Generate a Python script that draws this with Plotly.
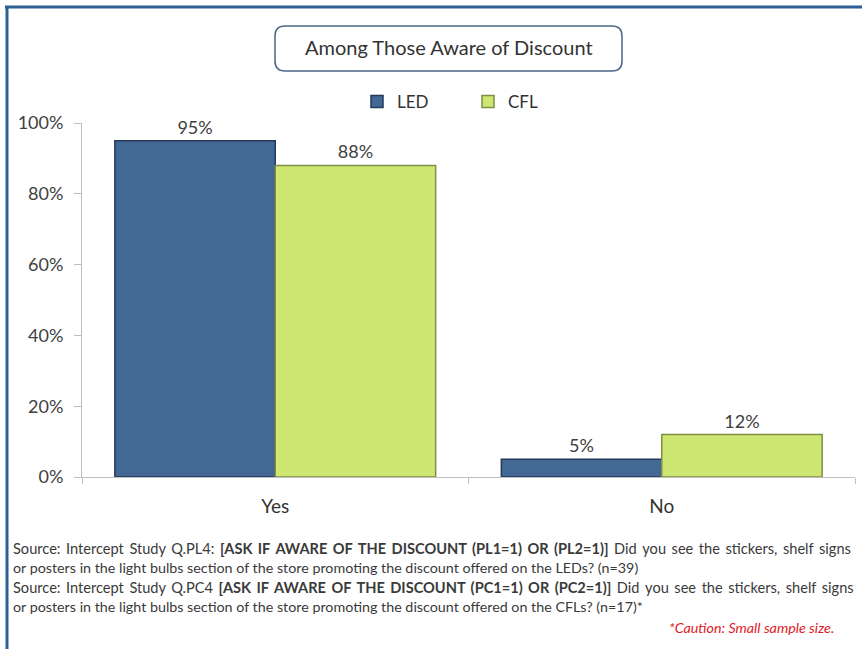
import plotly.graph_objects as go

categories = ["Yes", "No"]
led_values = [95, 5]
cfl_values = [88, 12]
series_names = ["LED", "CFL"]
y_tick_vals = [0, 20, 40, 60, 80, 100]
y_tick_text = ["0%", "20%", "40%", "60%", "80%", "100%"]
chart_title = "Among Those Aware of Discount"
footnotes = [
    "Source: Intercept Study Q.PL4: <b>[ASK IF AWARE OF THE DISCOUNT (PL1=1) OR (PL2=1)]</b> Did you see the stickers, shelf signs",
    "or posters in the light bulbs section of the store promoting the discount offered on the LEDs? (n=39)",
    "Source: Intercept Study Q.PC4 <b>[ASK IF AWARE OF THE DISCOUNT (PC1=1) OR (PC2=1)]</b> Did you see the stickers, shelf signs",
    "or posters in the light bulbs section of the store promoting the discount offered on the CFLs? (n=17)*",
]
justified = [True, False, True, False]
caution = "<i>*Caution: Small sample size.</i>"

W, H = 862, 649
L, R = 82, 855
T, B = 123, 477
FONT = "Lato"


def px(x):
    return (x - L) / (R - L)


def py(y):
    return (B - y) / (B - T)


fig = go.Figure()
fig.add_trace(go.Bar(
    name=series_names[0], x=categories, y=led_values,
    marker=dict(color="#436894", line=dict(color="#23395a", width=1.5)),
    texttemplate="%{y}%", textposition="outside",
    textfont=dict(size=18, color="#404040", family=FONT),
    cliponaxis=False,
))
fig.add_trace(go.Bar(
    name=series_names[1], x=categories, y=cfl_values,
    marker=dict(color="#cde772", line=dict(color="#7f8f45", width=1.5)),
    texttemplate="%{y}%", textposition="outside",
    textfont=dict(size=18, color="#404040", family=FONT),
    cliponaxis=False,
))

shapes = []
shapes.append(dict(type="line", xref="paper", yref="paper",
                   x0=px(5), x1=px(862), y0=py(7), y1=py(7),
                   line=dict(color="#2d5f94", width=3)))
shapes.append(dict(type="line", xref="paper", yref="paper",
                   x0=px(7), x1=px(7), y0=py(7), y1=py(649),
                   line=dict(color="#2d5f94", width=3)))
x0, x1, y0, y1, r = 275, 622, 26, 71, 10
path = (
    f"M {px(x0 + r)},{py(y0)} L {px(x1 - r)},{py(y0)} "
    f"Q {px(x1)},{py(y0)} {px(x1)},{py(y0 + r)} "
    f"L {px(x1)},{py(y1 - r)} Q {px(x1)},{py(y1)} {px(x1 - r)},{py(y1)} "
    f"L {px(x0 + r)},{py(y1)} Q {px(x0)},{py(y1)} {px(x0)},{py(y1 - r)} "
    f"L {px(x0)},{py(y0 + r)} Q {px(x0)},{py(y0)} {px(x0 + r)},{py(y0)} Z"
)
shapes.append(dict(type="path", xref="paper", yref="paper", path=path,
                   line=dict(color="#4a6789", width=1.5), fillcolor="white"))

annotations = [dict(
    text=chart_title, xref="paper", yref="paper", x=px(448.5), y=py(47),
    showarrow=False, font=dict(size=20, color="#333333", family=FONT),
    xanchor="center", yanchor="middle",
)]
line_ys = [548, 567, 587, 606]
for txt, yy, jus in zip(footnotes, line_ys, justified):
    size = 14.3
    if jus:
        txt = txt.replace(" ", " \u2009")
        size = 14.6
    annotations.append(dict(
        text=txt, xref="paper", yref="paper", x=px(11), y=py(yy),
        showarrow=False, xanchor="left", yanchor="middle", align="left",
        font=dict(size=size, color="#3a3a3a", family=FONT),
    ))
annotations.append(dict(
    text=caution, xref="paper", yref="paper", x=px(836), y=py(627),
    showarrow=False, xanchor="right", yanchor="middle",
    font=dict(size=14.3, color="#e0201f", family=FONT),
))

fig.update_layout(
    width=W, height=H,
    margin=dict(l=L, r=W - R, t=T, b=H - B, pad=0),
    paper_bgcolor="white", plot_bgcolor="white",
    barmode="group", bargap=0.17, bargroupgap=0,
    font=dict(family=FONT, color="#404040"),
    showlegend=True,
    legend=dict(orientation="h", xref="paper", yref="paper",
                x=px(357), y=py(102), xanchor="left", yanchor="middle",
                itemwidth=30, entrywidth=66, entrywidthmode="pixels",
                font=dict(size=17, color="#333333", family=FONT),
                bgcolor="rgba(0,0,0,0)"),
    shapes=shapes,
    annotations=annotations,
    xaxis=dict(showline=True, linecolor="#bfbfbf", linewidth=1,
               ticks="outside", tickson="boundaries", ticklen=6,
               tickcolor="#bfbfbf", showgrid=False, ticklabelstandoff=12,
               tickfont=dict(size=19, color="#333333", family=FONT)),
    yaxis=dict(range=[0, 100], tickvals=y_tick_vals, ticktext=y_tick_text,
               showline=True, linecolor="#bfbfbf", linewidth=1,
               ticks="outside", ticklen=7, tickcolor="#bfbfbf",
               showgrid=False, zeroline=False, ticklabelstandoff=7,
               tickfont=dict(size=18, color="#404040", family=FONT)),
)

fig.write_html("out.html", config={"displayModeBar": False},
               post_script="document.body.style.margin='0';document.body.style.padding='0';")
